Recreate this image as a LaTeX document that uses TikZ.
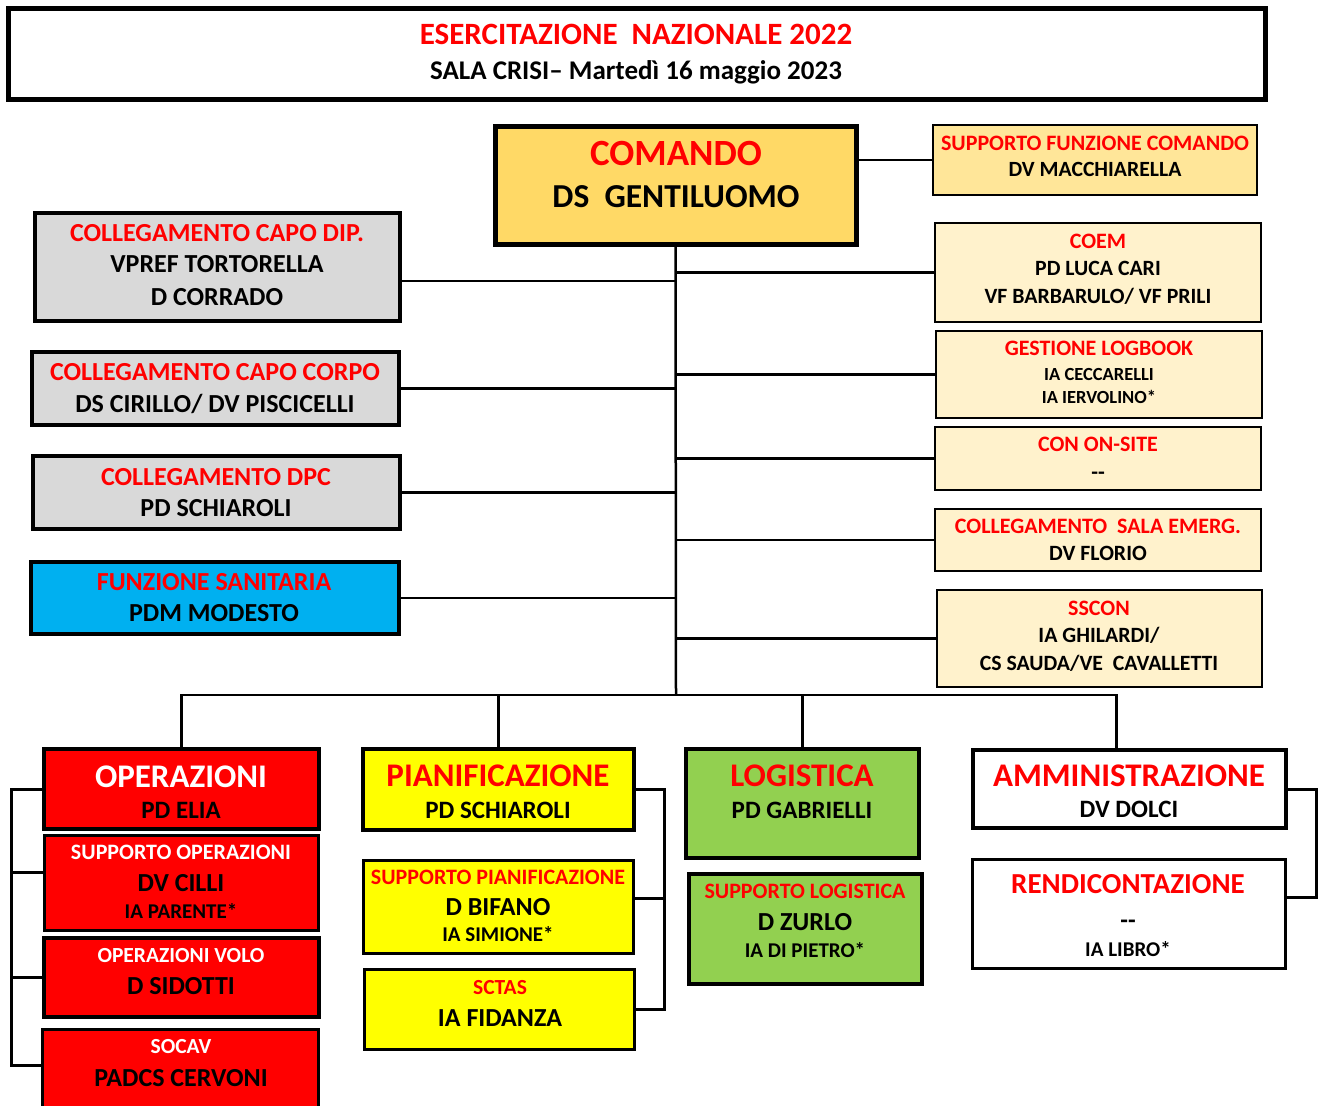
\documentclass[tikz,border=0pt]{standalone}
\usepackage{fontspec}
\setmainfont{Carlito}
\definecolor{gold}{HTML}{FFD966}
\definecolor{ltgold}{HTML}{FFE699}
\definecolor{cream}{HTML}{FFF2CC}
\definecolor{grayb}{HTML}{D9D9D9}
\definecolor{cyanb}{HTML}{00B0F0}
\definecolor{redb}{HTML}{FF0000}
\definecolor{yelb}{HTML}{FFFF00}
\definecolor{greenb}{HTML}{92D050}
\newcommand\bx[7]{\node[draw, line width=#7pt, fill=#6, inner sep=0pt, outer sep=0pt,
  minimum width={#4pt-#2pt}, minimum height={#5pt-#3pt}] (#1) at ({(#2+#4)/2},{(#3+#5)/2}) {};}
\newcommand\tx[6]{\node[tl=#4, text=#5] (#1) at (#2,#3) {#6};}
\begin{document}
\begin{tikzpicture}[x=1pt,y=-1pt,
  tl/.style={inner sep=0pt, anchor=base, font=\bfseries\fontsize{#1}{#1}\selectfont, yshift={-0.316*#1pt}},
  conn/.style={line width=2.5pt, draw=black},
  brk/.style={line width=3pt, draw=black}]
\clip (0,0) rectangle (1323,1106);
\fill[white] (0,0) rectangle (1323,1106);
% boxes
\bx{title}{8}{8}{1265}{99}{white}{5}
\bx{cmd}{495}{126}{856}{244}{gold}{5}
\bx{sfc}{933}{125}{1257}{195}{ltgold}{2.5}
\bx{coem}{935}{223}{1261}{322}{cream}{2.5}
\bx{glog}{936}{331}{1262}{418}{cream}{2.5}
\bx{cons}{935}{427}{1261}{490}{cream}{2.5}
\bx{csal}{935}{509}{1261}{571}{cream}{2.5}
\bx{sscon}{937}{590}{1262}{687}{cream}{2.5}
\bx{cdip}{35}{213}{400}{321}{grayb}{3.5}
\bx{ccorpo}{32}{352}{399}{425}{grayb}{3.5}
\bx{cdpc}{33}{456}{400}{529}{grayb}{3.5}
\bx{fsan}{31}{562}{399}{634}{cyanb}{3.5}
\bx{op}{44}{749}{319}{829}{redb}{4}
\bx{supop}{44}{835}{318}{930}{redb}{3}
\bx{opvol}{44}{938}{319}{1017}{redb}{4}
\bx{socav}{42}{1029}{318}{1115}{redb}{3}
\bx{pian}{363}{749}{634}{830}{yelb}{4}
\bx{suppian}{363}{860}{633}{953}{yelb}{3}
\bx{sctas}{364}{969}{634}{1049}{yelb}{3}
\bx{log}{686}{749}{919}{858}{greenb}{4}
\bx{suplog}{689}{874}{922}{984}{greenb}{4}
\bx{amm}{973}{750}{1286}{828}{white}{4}
\bx{rend}{972}{859}{1285}{968}{white}{3}
% connectors
\coordinate (bus) at (676,695);
\draw[conn] (cmd.south) -- (bus);
\draw[conn] (sfc.west) -- (sfc.west -| cmd.east);
\foreach \n in {coem,glog,cons,csal,sscon} \draw[conn] (\n.west) -- (\n.west -| cmd.south);
\coordinate (cdipc) at ([yshift=-14pt]cdip.east);
\draw[conn] (cdipc) -- (cdipc -| cmd.south);
\foreach \n in {ccorpo,cdpc,fsan} \draw[conn] (\n.east) -- (\n.east -| cmd.south);
\coordinate (ammtop) at ([xshift=-13pt]amm.north);
\draw[conn] (op.north) |- (bus) -| (ammtop);
\draw[conn] (pian.north) -- (pian.north |- bus);
\draw[conn] (log.north) -- (log.north |- bus);
% brackets
\coordinate (lb) at (11,0);
\coordinate (sct) at ([yshift=7pt]socav.west);
\coordinate (spt) at ([yshift=10pt]supop.west);
\draw[brk] (op.west) -| (lb |- sct) -- (sct);
\draw[brk] (spt) -- (spt -| lb);
\draw[brk] (opvol.west) -- (opvol.west -| lb);
\coordinate (rb) at (664,0);
\coordinate (spp) at ([yshift=8pt]suppian.east);
\draw[brk] (pian.east) -| (rb |- sctas.east) -- (sctas.east);
\draw[brk] (spp) -- (spp -| rb);
\coordinate (ab) at (1316,0);
\coordinate (rt) at ([yshift=16pt]rend.east);
\draw[brk] (amm.east) -| (ab |- rt) -- (rt);
% texts
\tx{t1}{636}{35}{31}{redb}{ESERCITAZIONE\ \ NAZIONALE 2022}
\tx{t2}{636}{71}{27}{black}{SALA CRISI– Martedì 16 maggio 2023}
\tx{t3}{676}{154}{37}{redb}{COMANDO}
\tx{t4}{676}{197}{33.5}{black}{DS\ \ GENTILUOMO}
\tx{t5}{1095}{144}{22}{redb}{SUPPORTO FUNZIONE COMANDO}
\tx{t6}{1095}{170}{21.7}{black}{DV MACCHIARELLA}
\tx{t7}{1098}{242}{22}{redb}{COEM}
\tx{t8}{1098}{269}{21.8}{black}{PD LUCA CARI}
\tx{t9}{1098}{297}{21.8}{black}{VF BARBARULO/ VF PRILI}
\tx{t10}{1099}{349}{22}{redb}{GESTIONE LOGBOOK}
\tx{t11}{1099}{375}{18.5}{black}{IA CECCARELLI}
\tx{t12}{1099}{398}{18.5}{black}{IA IERVOLINO*}
\tx{t13}{1098}{445}{22}{redb}{CON ON-SITE}
\tx{t14}{1098}{473}{22}{black}{{-}{-}}
\tx{t15}{1098}{527}{22}{redb}{COLLEGAMENTO\ \ SALA EMERG.}
\tx{t16}{1098}{554}{21.8}{black}{DV FLORIO}
\tx{t17}{1099}{609}{22}{redb}{SSCON}
\tx{t18}{1099}{636}{21.8}{black}{IA GHILARDI/}
\tx{t19}{1099}{664}{21.8}{black}{CS SAUDA/VE\ \ CAVALLETTI}
\tx{t20}{217}{233}{26}{redb}{COLLEGAMENTO CAPO DIP.}
\tx{t21}{217}{264}{26}{black}{VPREF TORTORELLA}
\tx{t22}{217}{297}{26}{black}{D CORRADO}
\tx{t23}{215}{372}{26}{redb}{COLLEGAMENTO CAPO CORPO}
\tx{t24}{215}{404}{26}{black}{DS CIRILLO/ DV PISCICELLI}
\tx{t25}{216}{477}{26}{redb}{COLLEGAMENTO DPC}
\tx{t26}{216}{508}{26}{black}{PD SCHIAROLI}
\tx{t27}{214}{582}{26}{redb}{FUNZIONE SANITARIA}
\tx{t28}{214}{613}{26}{black}{PDM MODESTO}
\tx{t29}{181}{777}{33}{white}{OPERAZIONI}
\tx{t30}{181}{811}{25}{black}{PD ELIA}
\tx{t31}{181}{853}{22}{white}{SUPPORTO OPERAZIONI}
\tx{t32}{181}{883}{26}{black}{DV CILLI}
\tx{t33}{181}{912}{21}{black}{IA PARENTE*}
\tx{t34}{181}{956}{21.5}{white}{OPERAZIONI VOLO}
\tx{t35}{181}{986}{26}{black}{D SIDOTTI}
\tx{t36}{181}{1047}{21.5}{white}{SOCAV}
\tx{t37}{181}{1078}{26}{black}{PADCS CERVONI}
\tx{t38}{498}{776}{33}{redb}{PIANIFICAZIONE}
\tx{t39}{498}{811}{25}{black}{PD SCHIAROLI}
\tx{t40}{498}{878}{22}{redb}{SUPPORTO PIANIFICAZIONE}
\tx{t41}{498}{907}{26}{black}{D BIFANO}
\tx{t42}{498}{935}{21}{black}{IA SIMIONE*}
\tx{t43}{500}{988}{21.5}{redb}{SCTAS}
\tx{t44}{500}{1018}{26}{black}{IA FIDANZA}
\tx{t45}{802}{776}{33}{redb}{LOGISTICA}
\tx{t46}{802}{811}{25}{black}{PD GABRIELLI}
\tx{t47}{805}{892}{22}{redb}{SUPPORTO LOGISTICA}
\tx{t48}{805}{922}{26}{black}{D ZURLO}
\tx{t49}{805}{951}{21}{black}{IA DI PIETRO*}
\tx{t50}{1129}{776}{33}{redb}{AMMINISTRAZIONE}
\tx{t51}{1129}{810}{25}{black}{DV DOLCI}
\tx{t52}{1128}{884}{29}{redb}{RENDICONTAZIONE}
\tx{t53}{1128}{921}{25}{black}{{-}{-}}
\tx{t54}{1128}{950}{21}{black}{IA LIBRO*}
\end{tikzpicture}
\end{document}
